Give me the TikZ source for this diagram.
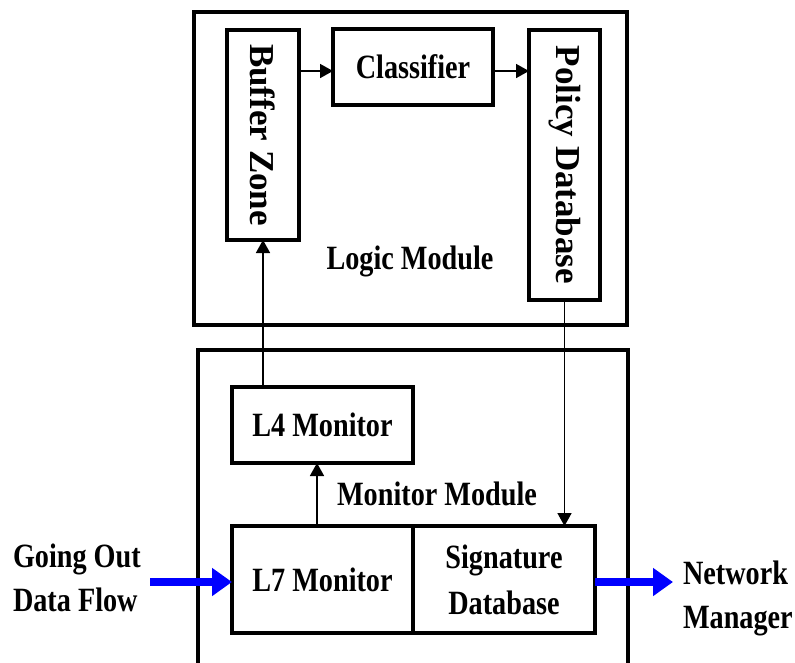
\documentclass[tikz,border=0pt]{standalone}
\usepackage{fontspec}
\setmainfont{Liberation Serif}[FakeStretch=0.83]
\newfontfamily\vfont{Liberation Serif}
\usetikzlibrary{arrows.meta}
\definecolor{flowblue}{RGB}{0,0,255}
\begin{document}
\begin{tikzpicture}[x=1pt,y=-1pt,
  every node/.style={inner sep=0pt,outer sep=0pt},
  modbox/.style={draw,line width=4.5pt},
  blockbox/.style={draw,line width=3.5pt,font=\fontsize{34}{40}\selectfont\bfseries},
  vtext/.style={font=\vfont\fontsize{35}{40}\selectfont\bfseries,rotate=-90},
  lbl/.style={font=\fontsize{34}{44}\selectfont\bfseries},
  conn/.style={line width=1.7pt,-{Triangle[length=13pt,width=14pt]}},
  flow/.style={draw=flowblue,line width=8pt,-{Triangle[length=20pt,width=27pt]}}]
\useasboundingbox (0,0) rectangle (795,662);
\clip (0,0) rectangle (795,662);
% Logic module frame
\node[modbox,minimum width=433pt,minimum height=313pt] (logic) at (410.5,168.5) {};
% Monitor module frame (open at bottom, runs off the picture)
\draw[line width=4.5pt] (198,700) -- (198,350) -- (628,350) -- (628,700);
% blocks
\node[blockbox,minimum width=72pt,minimum height=210pt] (buffer) at (263,135) {};
\node[vtext] (buffertext) at (buffer.center) {Buffer Zone};
\node[blockbox,minimum width=160pt,minimum height=76pt] (classifier) at (413,67) {Classifier};
\node[blockbox,minimum width=71pt,minimum height=270pt] (policy) at (564.5,165) {};
\node[vtext] (policytext) at (policy.center) {Policy Database};
\node[blockbox,minimum width=181pt,minimum height=76pt] (l4) at (322.5,425) {L4 Monitor};
\node[blockbox,minimum width=181pt,minimum height=107pt] (l7) at (322.5,579.5) {L7 Monitor};
\node[blockbox,minimum width=182pt,minimum height=107pt,align=center,font=\fontsize{34}{46}\selectfont\bfseries] (sig) at (504,579.5) {Signature\\Database};
% module labels
\node[lbl,anchor=base] (logiclbl) at (410,269) {Logic Module};
\node[lbl,anchor=base] (monlbl) at (437,505) {Monitor Module};
% external labels
\node[lbl,anchor=base west,align=left] (going) at (13,611) {Going Out\\Data Flow};
\node[lbl,anchor=base west,align=left] (netmgr) at (683,628) {Network\\Manager};
% connectors
\coordinate (row1) at (0,71);
\draw[conn] (buffer.east |- row1) -- (classifier.west |- row1);
\draw[conn] (classifier.east |- row1) -- (policy.west |- row1);
\draw[conn] (l4.north -| buffer.south) -- (buffer.south);
\coordinate (col1) at (317,0);
\draw[conn] (l7.north -| col1) -- (l4.south -| col1);
\draw[conn] (policy.south) -- (policy.south |- sig.north);
\coordinate (srcflow) at (150,582);
\coordinate (dstflow) at (673,582);
\draw[flow] (srcflow) -- (srcflow -| l7.west);
\draw[flow] (dstflow -| sig.east) -- (dstflow);
\end{tikzpicture}
\end{document}
